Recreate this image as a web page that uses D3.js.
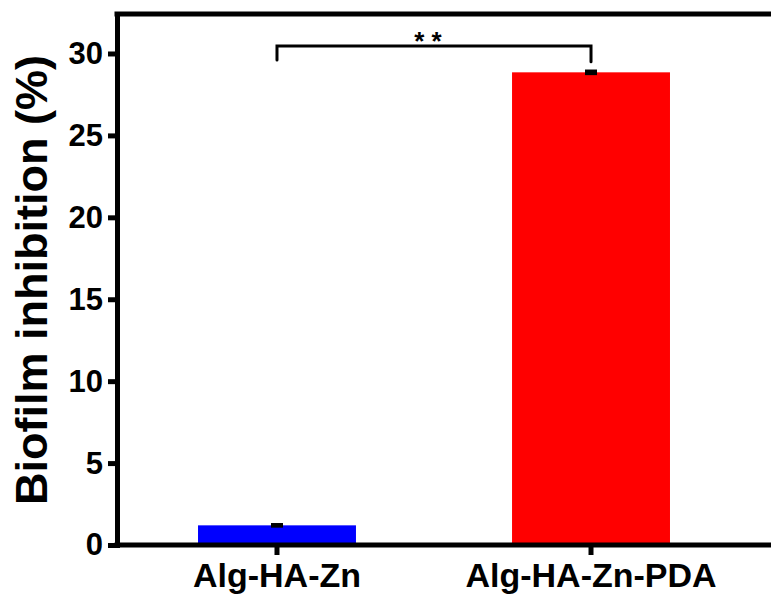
<!DOCTYPE html>
<html>
<head>
<meta charset="utf-8">
<script src="https://cdn.jsdelivr.net/npm/d3@7"></script>
<style>
  html, body { margin: 0; padding: 0; background: #fff; }
  svg { display: block; font-family: Arial, 'Liberation Sans', sans-serif; }
</style>
</head>
<body>
<script>
// data
const categories = ['Alg-HA-Zn', 'Alg-HA-Zn-PDA']
const values = [1.2, 28.85]
const errors = [0.05, 0.08]
const barColors = ['#0000ff', '#ff0000']
const yTicks = [0, 5, 10, 15, 20, 25, 30]
const bracketLegs = [29.6, 29.5]
const bracketTop = 30.45
const sigLabel = '* *'

const WIDTH = 771
const HEIGHT = 598
const MARGIN = { top: 14, right: -10, bottom: 53, left: 117 }
const AXIS_W = 5

const svg = d3.select('body').append('svg')
  .attr('width', WIDTH)
  .attr('height', HEIGHT)

const x = d3.scaleBand()
  .domain(categories)
  .range([MARGIN.left, 751])
  .paddingInner(0.497)
  .paddingOuter(0.258)

const y = d3.scaleLinear()
  .domain([0, 32.41])
  .range([HEIGHT - MARGIN.bottom, MARGIN.top])

const bars = categories.map((c, i) => ({ c, v: values[i], e: errors[i], col: barColors[i] }))

// bars
svg.selectAll('rect.bar')
  .data(bars)
  .enter()
  .append('rect')
  .attr('class', 'bar')
  .attr('x', d => x(d.c))
  .attr('width', x.bandwidth())
  .attr('y', d => y(d.v))
  .attr('height', d => y(0) - y(d.v))
  .attr('fill', d => d.col)

// error bars
const err = svg.selectAll('g.err')
  .data(bars)
  .enter()
  .append('g')
  .attr('class', 'err')
  .attr('stroke', '#000')
  .attr('stroke-width', 3)
err.append('line')
  .attr('x1', d => x(d.c) + x.bandwidth() / 2)
  .attr('x2', d => x(d.c) + x.bandwidth() / 2)
  .attr('y1', d => y(d.v - d.e))
  .attr('y2', d => y(d.v + d.e))
err.append('rect')
  .attr('x', d => x(d.c) + x.bandwidth() / 2 - 6)
  .attr('width', 12)
  .attr('y', d => y(d.v + d.e) - 1.5)
  .attr('height', d => y(d.v - d.e) - y(d.v + d.e) + 3)
  .attr('fill', '#000')
  .attr('stroke', 'none')

// axes
const yAxis = d3.axisLeft(y)
  .tickValues(yTicks)
  .tickSizeInner(9)
  .tickSizeOuter(0)
  .tickPadding(5)

const leftAxis = svg.append('g')
  .attr('transform', `translate(${MARGIN.left}, 0)`)
  .call(yAxis)

const xAxis = d3.axisBottom(x)
  .tickSizeInner(10)
  .tickSizeOuter(0)
  .tickPadding(8)

const bottomAxis = svg.append('g')
  .attr('transform', `translate(0, ${y(0)})`)
  .call(xAxis)

bottomAxis.select('.domain').attr('d', `M${MARGIN.left},0H${WIDTH + 10}`)

;[leftAxis, bottomAxis].forEach(g => {
  g.select('.domain').attr('stroke-width', AXIS_W).attr('stroke-linecap', 'square')
  g.selectAll('.tick line').attr('stroke-width', AXIS_W)
  g.selectAll('.tick text')
    .attr('font-size', 31)
    .attr('font-weight', 'bold')
    .attr('fill', '#000')
})
bottomAxis.selectAll('.tick text').attr('font-size', 34)

// top frame line
svg.append('line')
  .attr('x1', MARGIN.left)
  .attr('x2', WIDTH + 10)
  .attr('y1', y.range()[1])
  .attr('y2', y.range()[1])
  .attr('stroke', '#000')
  .attr('stroke-width', AXIS_W)
  .attr('stroke-linecap', 'square')

// significance bracket
const bx = categories.map(c => x(c) + x.bandwidth() / 2)
svg.append('path')
  .attr('d', d3.line()([
    [bx[0], y(bracketLegs[0])],
    [bx[0], y(bracketTop)],
    [bx[1], y(bracketTop)],
    [bx[1], y(bracketLegs[1])],
  ]))
  .attr('fill', 'none')
  .attr('stroke', '#000')
  .attr('stroke-width', 3)
  .attr('stroke-linecap', 'round')

svg.append('text')
  .attr('x', 428)
  .attr('y', 50)
  .attr('text-anchor', 'middle')
  .attr('font-size', 26)
  .attr('font-weight', 'bold')
  .text(sigLabel)

// y label
svg.append('text')
  .attr('transform', `translate(47, 280) rotate(-90)`)
  .attr('text-anchor', 'middle')
  .attr('font-size', 45)
  .attr('font-weight', 'bold')
  .text('Biofilm inhibition (%)')
</script>
</body>
</html>
